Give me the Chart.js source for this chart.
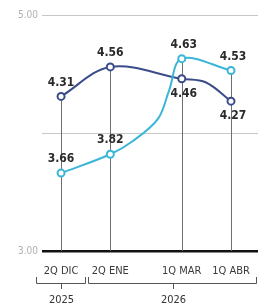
<!DOCTYPE html>
<html>
<head>
<meta charset="utf-8">
<script src="https://cdn.jsdelivr.net/npm/chart.js@4.4.0/dist/chart.umd.min.js"></script>
<style>
  html, body { margin: 0; padding: 0; background: #fff; }
  #wrap { width: 270px; height: 308px; position: relative; }
</style>
</head>
<body>
<div id="wrap"><canvas id="rateChart"></canvas></div>
<script>
  // -----------------------------
  // データ
  // -----------------------------
  const periodLabels = ["2Q DIC", "2Q ENE", "1Q MAR", "1Q ABR"];
  const periodDays = [0, 31, 76, 107];          // 2Q DIC からの日数
  const yearLabels = ["2025", "2026"];
  const yearSpans = [[-16, 15], [17, 123]];     // 年ごとの括弧の範囲（日数）

  const darkValues = [4.31, 4.56, 4.46, 4.27];
  const cyanValues = [3.66, 3.82, 4.63, 4.53];

  // 中間の読み取り値（マーカーなし）
  const darkExtraDays = [91];
  const darkExtraValues = [4.43];
  const cyanExtraDays = [45, 61, 68];
  const cyanExtraValues = [3.93, 4.12, 4.36];

  const yTicks = [3, 4, 5];

  const DARK = "#3b4c8a";
  const CYAN = "#3bb6d6";
  const FONT = "'Liberation Sans Narrow', 'DejaVu Sans Condensed', sans-serif";
  const LABEL_FONT = "bold 12px 'DejaVu Sans Condensed', sans-serif";

  // 系列を作る（主要点 + 中間点）
  function buildSeries(values, extraDays, extraValues) {
    const pts = periodDays.map((d, i) => ({ x: d, y: values[i], main: true, idx: i }));
    extraDays.forEach((d, i) => pts.push({ x: d, y: extraValues[i], main: false }));
    return pts.sort((a, b) => a.x - b.x);
  }

  // -----------------------------
  // 縦線（各期間）
  // -----------------------------
  const dropLines = {
    id: "dropLines",
    beforeDatasetsDraw(chart) {
      const { ctx, scales: { x, y } } = chart;
      ctx.save();
      ctx.strokeStyle = "#6f6f6f";
      ctx.lineWidth = 1;
      periodDays.forEach((d, i) => {
        const px = Math.round(x.getPixelForValue(d)) + 0.5;
        const top = y.getPixelForValue(Math.max(darkValues[i], cyanValues[i]));
        ctx.beginPath();
        ctx.moveTo(px, top);
        ctx.lineTo(px, y.getPixelForValue(3));
        ctx.stroke();
      });
      ctx.restore();
    }
  };

  // -----------------------------
  // 値ラベル
  // -----------------------------
  const darkPlace = ["up", "up", "down", "down"];
  const cyanPlace = ["up", "up", "up", "up"];

  const valueLabels = {
    id: "valueLabels",
    afterDatasetsDraw(chart) {
      const { ctx, scales: { x, y } } = chart;
      ctx.save();
      ctx.font = LABEL_FONT;
      ctx.fillStyle = "#2a2a2a";
      ctx.textAlign = "center";
      ctx.textBaseline = "middle";
      const draw = (values, place) => {
        values.forEach((v, i) => {
          const px = x.getPixelForValue(periodDays[i]) + (i >= 2 ? 2 : 0);
          const py = y.getPixelForValue(v) + (place[i] === "up" ? -14 : 15);
          ctx.fillText(v.toFixed(2), px, py);
        });
      };
      draw(darkValues, darkPlace);
      draw(cyanValues, cyanPlace);
      ctx.restore();
    }
  };

  // -----------------------------
  // 年の括弧
  // -----------------------------
  const yearBrackets = {
    id: "yearBrackets",
    afterDraw(chart) {
      const { ctx, scales: { x } } = chart;
      ctx.save();
      ctx.strokeStyle = "#555";
      ctx.lineWidth = 1;
      ctx.fillStyle = "#333";
      ctx.font = "11px " + FONT;
      ctx.textAlign = "center";
      ctx.textBaseline = "middle";
      yearSpans.forEach(([a, b], i) => {
        const l = Math.round(x.getPixelForValue(a)) + 0.5;
        const r = Math.round(x.getPixelForValue(b)) + 0.5;
        const m = Math.round((l + r) / 2) + 0.5;
        ctx.beginPath();
        ctx.moveTo(l, 277);
        ctx.lineTo(l, 283.5);
        ctx.lineTo(r, 283.5);
        ctx.lineTo(r, 277);
        ctx.moveTo(m, 283.5);
        ctx.lineTo(m, 289);
        ctx.stroke();
        ctx.fillText(yearLabels[i], m, 300);
      });
      ctx.restore();
    }
  };

  // -----------------------------
  // 折れ線グラフ
  // -----------------------------
  const ctx = document.getElementById("rateChart").getContext("2d");
  const mainRadius = c => (c.raw && c.raw.main ? 3.5 : 0);

  new Chart(ctx, {
    type: "line",
    data: {
      datasets: [
        {
          label: "cyan",
          data: buildSeries(cyanValues, cyanExtraDays, cyanExtraValues),
          borderColor: CYAN,
          borderWidth: 2,
          pointRadius: mainRadius,
          pointBackgroundColor: "#fff",
          pointBorderColor: CYAN,
          pointBorderWidth: 2,
          tension: 0.35
        },
        {
          label: "dark",
          data: buildSeries(darkValues, darkExtraDays, darkExtraValues),
          borderColor: DARK,
          borderWidth: 2,
          pointRadius: mainRadius,
          pointBackgroundColor: "#fff",
          pointBorderColor: DARK,
          pointBorderWidth: 2,
          tension: 0.35
        }
      ]
    },
    options: {
      responsive: true,
      maintainAspectRatio: false,
      animation: false,
      events: [],
      layout: { padding: { top: 15, right: 12, bottom: 0, left: 0 } },
      plugins: {
        legend: { display: false },
        tooltip: { enabled: false }
      },
      scales: {
        x: {
          type: "linear",
          min: -12,
          max: 124,
          afterBuildTicks: s => { s.ticks = periodDays.map(v => ({ value: v })); },
          afterFit: s => { s.height = 57; },
          grid: { display: false },
          border: { display: false },
          ticks: {
            autoSkip: false,
            maxRotation: 0,
            padding: 6,
            color: "#3a3a3a",
            font: { family: FONT, size: 11 },
            callback: (v, i) => periodLabels[i]
          }
        },
        y: {
          min: 3,
          max: 5,
          afterBuildTicks: s => { s.ticks = yTicks.map(v => ({ value: v })); },
          afterFit: s => { s.width = 42; },
          border: { display: false },
          grid: {
            drawTicks: false,
            color: c => (c.tick.value === 3 ? "#111" : "#c8c8c8"),
            lineWidth: c => (c.tick.value === 3 ? 2.5 : 1)
          },
          ticks: {
            padding: 4,
            color: "#b0b0b0",
            font: { family: FONT, size: 10 },
            callback: v => (v === 4 ? "" : v.toFixed(2))
          }
        }
      }
    },
    plugins: [dropLines, valueLabels, yearBrackets]
  });
</script>
</body>
</html>
